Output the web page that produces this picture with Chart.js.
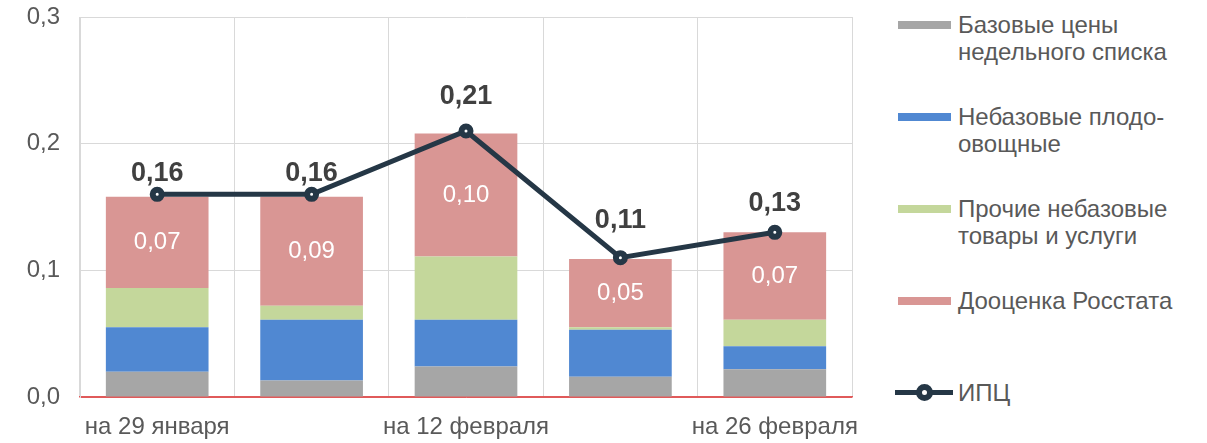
<!DOCTYPE html>
<html lang="ru">
<head>
<meta charset="utf-8">
<title>ИПЦ</title>
<script src="https://cdn.jsdelivr.net/npm/chart.js@4.4.1/dist/chart.umd.min.js"></script>
<style>
  html, body { margin: 0; padding: 0; background: #fff; }
  body { width: 1207px; height: 443px; position: relative; overflow: hidden;
         font-family: "Liberation Sans", Arial, sans-serif; }
  #wrap { position: absolute; left: 0; top: 0; width: 870px; height: 443px; }
  #legend { position: absolute; left: 895px; top: 11px; width: 312px; }
  .lg-item { height: 92px; position: relative; }
  .lg-sw { position: absolute; left: 3px; top: 10px; width: 53px; height: 8px; }
  .lg-text { position: absolute; left: 63px; top: 0; font-size: 24px; line-height: 27px;
             color: #595959; white-space: pre-line; }
  .lg-line { position: absolute; left: 0; top: 11px; width: 58px; height: 5px; }
  .lg-dot { position: absolute; left: 21px; top: 5px; width: 5px; height: 5px;
            border: 6px solid #253746; border-radius: 50%; background: #fff; }
</style>
</head>
<body>
<div id="wrap"><canvas id="chart" width="870" height="443"></canvas></div>
<div id="legend"></div>

<script>
/* ── Data ──────────────────────────────────────────────────────────────── */

const weeks     = ['на 29 января', 'на 5 февраля', 'на 12 февраля', 'на 19 февраля', 'на 26 февраля'];
const baseList  = [0.020, 0.013, 0.024, 0.016, 0.022];   // Базовые цены недельного списка
const fruitVeg  = [0.035, 0.048, 0.037, 0.037, 0.018];   // Небазовые плодоовощные
const otherNon  = [0.031, 0.011, 0.050, 0.002, 0.021];   // Прочие небазовые товары и услуги
const rosstat   = [0.072, 0.086, 0.097, 0.054, 0.069];   // Дооценка Росстата
const cpi       = [0.16, 0.16, 0.21, 0.11, 0.13];        // ИПЦ
const yTicks    = [0, 0.1, 0.2, 0.3];

const seriesNames = [
  'Базовые цены\nнедельного списка',
  'Небазовые плодо-\nовощные',
  'Прочие небазовые\nтовары и услуги',
  'Дооценка Росстата',
  'ИПЦ'
];

const COLORS = ['#a6a6a6', '#5088d2', '#c4d79b', '#d99694'];
const LINE   = '#253746';
const TEXT   = '#595959';

const fmt = (v, d) => v.toFixed(d).replace('.', ',');

// ── Labels plugin ──────────────────────────────────────────────────────────

const labelLift = [21, 21, 34, 37, 29];   // px above each CPI point

const valueLabels = {
  id: 'valueLabels',
  afterDatasetsDraw(chart) {
    const ctx = chart.ctx;
    ctx.save();
    ctx.textAlign = 'center';
    ctx.textBaseline = 'middle';

    // white numbers inside the Rosstat segment
    const red = chart.getDatasetMeta(3);
    ctx.font = '24px "Liberation Sans", Arial, sans-serif';
    ctx.fillStyle = '#ffffff';
    red.data.forEach((bar, i) => {
      const mid = (bar.y + bar.base) / 2;
      ctx.fillText(fmt(rosstat[i], 2), bar.x, mid);
    });

    // bold CPI numbers above the line
    const line = chart.getDatasetMeta(4);
    ctx.font = 'bold 27px "Liberation Sans", Arial, sans-serif';
    ctx.fillStyle = '#404040';
    line.data.forEach((pt, i) => {
      ctx.fillText(fmt(cpi[i], 2), pt.x, pt.y - labelLift[i]);
    });
    ctx.restore();
  }
};

// ── Chart ──────────────────────────────────────────────────────────────────

const barSets = [baseList, fruitVeg, otherNon, rosstat].map((vals, i) => ({
  type: 'bar',
  label: seriesNames[i],
  data: vals,
  backgroundColor: COLORS[i],
  borderWidth: 0,
  stack: 'cpi',
  categoryPercentage: 1,
  barPercentage: 0.665,
  order: 2,
}));

const chart = new Chart(document.getElementById('chart'), {
  type: 'bar',
  data: {
    labels: weeks,
    datasets: [
      ...barSets,
      {
        type: 'line',
        label: seriesNames[4],
        data: cpi,
        borderColor: LINE,
        borderWidth: 5,
        pointRadius: 4.5,
        pointBorderWidth: 6,
        pointBackgroundColor: '#ffffff',
        pointBorderColor: LINE,
        tension: 0,
        order: 1,
      }
    ]
  },
  options: {
    responsive: false,
    animation: false,
    layout: { padding: { top: 17, right: 18, left: 0, bottom: 0 } },
    plugins: { legend: { display: false }, tooltip: { enabled: false } },
    scales: {
      x: {
        stacked: true,
        grid: { color: '#d9d9d9', drawTicks: false, offset: true },
        border: { color: '#e05a5a', width: 1.5 },
        ticks: {
          color: TEXT, font: { size: 24, family: '"Liberation Sans", Arial, sans-serif' },
          padding: 16, autoSkip: false, maxRotation: 0, minRotation: 0,
          callback: (v, i) => (i % 2 ? '' : weeks[i])
        },
        afterFit: s => { s.height = 46; s.paddingLeft = 0; s.paddingRight = 0; }
      },
      y: {
        stacked: true,
        min: yTicks[0], max: yTicks[yTicks.length - 1],
        afterBuildTicks: s => { s.ticks = yTicks.map(v => ({ value: v })); },
        grid: {
          drawTicks: false,
          color: c => (c.tick && c.tick.value === 0 ? '#e05a5a' : '#d9d9d9')
        },
        border: { color: '#d9d9d9' },
        ticks: {
          color: TEXT, font: { size: 24, family: '"Liberation Sans", Arial, sans-serif' },
          padding: 20,
          callback: v => fmt(v, 1)
        },
        afterFit: s => { s.width = 80; s.paddingTop = 0; s.paddingBottom = 0; }
      }
    }
  },
  plugins: [valueLabels]
});

// ── Legend (HTML, built from the datasets) ────────────────────────────────

document.getElementById('legend').innerHTML = chart.data.datasets.map((ds, i) => {
  const sw = ds.type === 'line'
    ? `<div class="lg-line" style="background:${LINE}"></div><div class="lg-dot"></div>`
    : `<div class="lg-sw" style="background:${ds.backgroundColor}"></div>`;
  return `<div class="lg-item">${sw}<div class="lg-text">${ds.label}</div></div>`;
}).join('');
</script>
</body>
</html>
